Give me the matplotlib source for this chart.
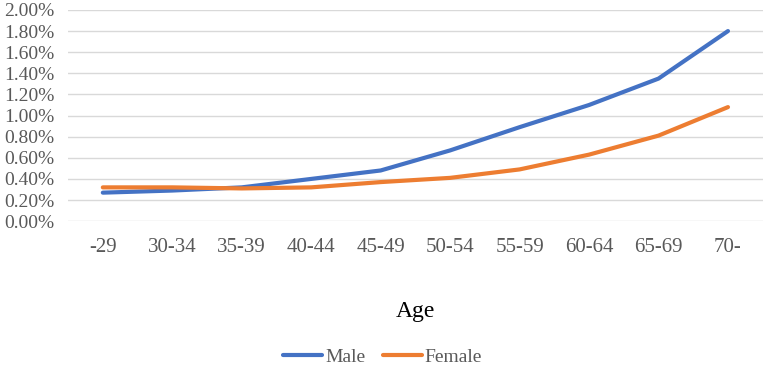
import matplotlib.pyplot as plt
from matplotlib.ticker import PercentFormatter

plt.rcParams['font.family'] = ['Liberation Serif', 'DejaVu Serif']

ages = ["-29", "30-34", "35-39", "40-44", "45-49", "50-54", "55-59", "60-64", "65-69", "70-"]
male = [0.27, 0.29, 0.32, 0.40, 0.48, 0.67, 0.89, 1.10, 1.35, 1.80]
female = [0.32, 0.32, 0.31, 0.32, 0.37, 0.41, 0.49, 0.63, 0.81, 1.08]

fig = plt.figure(figsize=(7.65, 3.68), dpi=100)
ax = fig.add_axes([0.089, 0.399, 0.908, 0.574])

x = range(len(ages))
ax.plot(x, male, color="#4472C4", lw=3, label="Male", solid_capstyle="round")
ax.plot(x, female, color="#ED7D31", lw=3, label="Female", solid_capstyle="round")

ax.set_xlim(-0.5, len(ages) - 0.5)
ax.set_ylim(0, 2.0)
ax.set_yticks([i * 0.2 for i in range(11)])
ax.yaxis.set_major_formatter(PercentFormatter(decimals=2))
ax.set_xticks(list(x))
ax.set_xticklabels(ages)
ax.grid(axis="y", color="#D9D9D9", lw=1)
ax.set_axisbelow(True)
for s in ax.spines.values():
    s.set_visible(False)
ax.tick_params(length=0, labelsize=15, colors="#595959")
ax.tick_params(axis="x", pad=12)
ax.tick_params(axis="y", labelsize=14, pad=10)

ax.set_xlabel("Age", fontsize=17, color="#000000", labelpad=32)

fig.legend(loc="lower center", bbox_to_anchor=(0.5, -0.042), ncol=2, frameon=False,
           fontsize=14, handlelength=2.0, handletextpad=0.15, columnspacing=0.9,
           labelcolor="#595959")

fig.savefig("out.png", dpi=100)
